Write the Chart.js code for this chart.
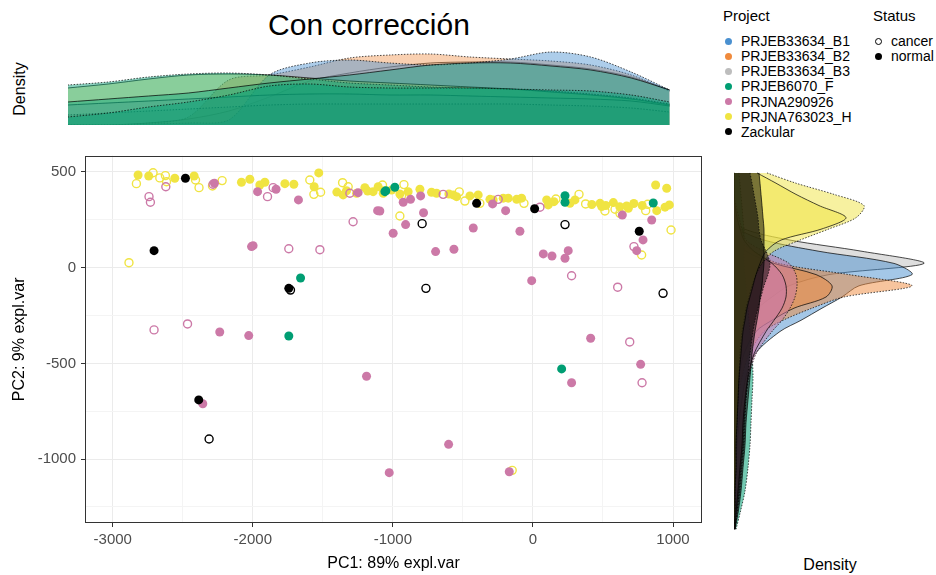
<!DOCTYPE html>
<html>
<head>
<meta charset="utf-8">
<script src="https://cdn.jsdelivr.net/npm/chart.js@4.4.1/dist/chart.umd.min.js"></script>
<style>
  body { margin: 0; width: 936px; height: 575px; background: #fff; position: relative; overflow: hidden;
         font-family: "Liberation Sans", Arial, sans-serif; color: #000; }
  canvas { position: absolute; }
  .txt { position: absolute; line-height: 1; white-space: nowrap; }
  #title { left: 169px; width: 400px; top: 10px; font-size: 30px; text-align: center; }
  .rot { transform: translate(-50%, -50%) rotate(-90deg); font-size: 16px; }
  .ctr { transform: translate(-50%, -50%); font-size: 16px; }
  .lg-title { font-size: 15px; }
  .lg-item { font-size: 14px; }
  .dot { position: absolute; width: 7px; height: 7px; border-radius: 50%; box-sizing: border-box; }
</style>
</head>
<body>
<div class="txt" id="title">Con corrección</div>
<div class="txt rot" style="left:20px;top:89px">Density</div>
<div class="txt ctr" style="left:830px;top:565px">Density</div>
<canvas id="topDens" width="602" height="87" style="left:68px;top:38px"></canvas>
<canvas id="scatter" width="716" height="435" style="left:0;top:140px"></canvas>
<canvas id="rightDens" width="198" height="358" style="left:734px;top:172px"></canvas>
<div id="legend"></div>
<script>
// categories
const projects = ['PRJEB33634_B1', 'PRJEB33634_B2', 'PRJEB33634_B3', 'PRJEB6070_F', 'PRJNA290926', 'PRJNA763023_H', 'Zackular'];
const statuses = ['cancer', 'normal'];
const projectColors = ['#4A90D0', '#F08A3C', '#BDBDBD', '#009E73', '#CC79A7', '#F0E442', '#000000'];

// axis ticks (labelled ones) and grid positions
const xTicks = [-3000, -2000, -1000, 0, 1000];
const yTicks = [500, 0, -500, -1000];
const xGrid = [-3000, -2500, -2000, -1500, -1000, -500, 0, 500, 1000];
const yGrid = [500, 250, 0, -250, -500, -750, -1000, -1250];
const xRange = [-3198, 1207];
const yRange = [-1334, 585];

// PCA scores [PC1, PC2]
const hNormal = [[-2819,484],[-2743,479],[-2557,467],[-2419,479],[-2081,446],[-2021,462],[-1950,432],[-1914,446],[-1771,439],[-1707,436],[-1562,423],[-1529,495],[-1400,395],[-1355,380],[-1331,402],[-1259,389],[-1200,418],[-1180,400],[-1141,397],[-1105,423],[-1069,389],[-1064,402],[-1009,406],[-950,385],[-891,397],[-807,410],[-724,394],[-688,389],[-600,385],[-569,380],[-545,371],[-450,375],[-391,380],[-307,357],[-284,354],[-212,363],[-176,363],[-116,357],[-81,363],[98,354],[109,328],[150,345],[264,336],[300,354],[420,330],[479,336],[491,319],[520,325],[574,340],[620,318],[669,322],[681,310],[720,335],[780,325],[876,432],[955,415],[884,298],[943,316],[974,328]];
const hCancer = [[-2831,439],[-2712,496],[-2664,469],[-2624,481],[-2616,449],[-2409,458],[-2384,418],[-2288,427],[-2219,455],[-1593,458],[-1564,383],[-1516,394],[-1359,444],[-1319,423],[-2884,26],[-1074,432],[-921,434],[-938,376],[-950,270],[-526,396],[-486,348],[-379,336],[-64,336],[164,359],[329,383],[376,333],[514,296],[586,305],[621,284],[805,298],[819,331],[776,66],[986,197],[-148,-1059]];
const p290Normal = [[-2274,441],[-1966,397],[-1834,410],[-1674,354],[-1109,298],[-1998,115],[-2009,110],[-2236,-336],[-2029,-355],[-1248,392],[-1188,-567],[-2357,-711],[-1026,-1071],[412,-369],[276,-601],[769,-505],[-602,-923],[-169,-1066],[-1093,296],[-926,342],[-874,357],[-802,375],[-781,287],[-998,180],[-909,225],[-426,207],[-288,333],[-195,298],[-93,190],[-695,84],[-564,96],[74,72],[136,61],[229,49],[252,89],[-9,-68],[638,275],[786,145],[741,89],[848,249]];
const p290Cancer = [[-2741,371],[-2731,342],[-2621,423],[-2284,436],[-1895,371],[-1855,418],[-1284,240],[-1743,99],[-1521,94],[-2705,-325],[-2466,-294],[-1307,389],[691,-388],[779,-601],[-641,383],[-248,357],[50,316],[276,-42],[605,-102],[721,110]];
const fNormal = [[-1659,-54],[-1743,-357],[-1050,402],[-1057,397],[-986,420],[229,376],[229,342],[859,338],[205,-529]];
const zackNormal = [[-2481,467],[-2705,89],[-1743,-108],[-2386,-691],[-402,336],[12,308],[759,190]];
const zackCancer = [[-1731,-117],[-2312,-895],[-791,230],[229,225],[-764,-108],[929,-134]];

// marginal density of PC1 (top)
const topGridPC1 = [-3200, -2905, -2610, -2320, -2025, -1730, -1435, -1145, -850, -555, -265, 30, 325, 615, 910, 1190];
const topB3 = [0, 0, 2, 6, 14, 28, 44, 52, 58, 62, 63, 63, 60, 56, 48, 35];
const topB2 = [0, 0, 2, 8, 45, 50, 58, 67, 70, 71, 68, 66, 64, 60, 50, 34];
const topB1 = [0, 0, 1, 2, 5, 50, 62, 65, 62, 60, 62, 66, 73, 68, 53, 35];
const topH = [37, 41, 46, 50, 51, 50, 47, 44, 42, 40, 38, 36, 33, 30, 26, 20];
const topP290 = [20, 22, 24, 26, 28, 30, 31, 31, 30, 30, 29, 28, 27, 26, 24, 19];
const topZack = [10, 12, 14, 16, 18, 20, 21, 21, 21, 21, 21, 21, 20, 19, 17, 13];
const topFCancer = [40, 43, 48, 51, 52, 50, 46, 42, 40, 38, 37, 36, 34, 31, 27, 21];
const topFNormal = [23, 26, 29, 32, 37, 42, 46, 50, 55, 60, 62, 62, 59, 55, 47, 35];
const topFAll = [8, 12, 18, 23, 30, 39, 41, 38, 37, 37, 37, 36, 35, 34, 30, 23];

// marginal density of PC2 (right)
const rightGridPC2 = [580, 525, 465, 405, 340, 280, 220, 160, 95, 35, -25, -85, -145, -210, -270, -390, -515, -635, -760, -880, -1000, -1125, -1245, -1330];
const rightB3 = [0, 0, 0, 0, 0, 10, 56, 128, 190, 95, 55, 38, 24, 15, 10, 5, 3, 2, 1, 1, 0, 0, 0, 0];
const rightB1 = [0, 0, 0, 0, 0, 5, 30, 85, 160, 178, 125, 108, 88, 67, 46, 21, 12, 8, 5, 3, 2, 1, 0, 0];
const rightB2Cancer = [0, 0, 0, 0, 0, 0, 5, 20, 45, 115, 178, 110, 78, 49, 30, 15, 8, 4, 2, 1, 0, 0, 0, 0];
const rightB2Normal = [0, 0, 0, 0, 0, 0, 3, 12, 40, 82, 98, 92, 60, 38, 22, 10, 5, 2, 1, 0, 0, 0, 0, 0];
const rightF = [5, 6, 7, 8, 9, 10, 10, 10, 10, 11, 12, 13, 14, 15, 16, 18, 19, 18, 17, 16, 14, 11, 6, 2];
const rightP290Cancer = [0, 0, 0, 2, 5, 8, 12, 30, 55, 62, 63, 61, 56, 48, 38, 22, 15, 12, 10, 9, 7, 5, 3, 1];
const rightP290Normal = [0, 0, 0, 1, 3, 6, 10, 20, 38, 48, 52, 52, 48, 40, 32, 20, 14, 11, 9, 8, 6, 4, 2, 1];
const rightHCancer = [33, 62, 100, 130, 122, 95, 66, 40, 28, 22, 18, 15, 12, 10, 8, 6, 5, 4, 3, 2, 2, 1, 1, 0];
const rightHNormal = [23, 42, 62, 85, 112, 88, 47, 32, 26, 22, 19, 16, 13, 11, 9, 7, 5, 4, 3, 2, 2, 1, 1, 0];
const rightZackNormal = [25, 26, 27, 28, 29, 30, 30, 30, 30, 29, 28, 26, 25, 23, 21, 18, 16, 14, 12, 11, 9, 7, 4, 1];
const rightZackCancer = [16, 18, 20, 22, 24, 25, 27, 32, 36, 34, 30, 27, 24, 21, 19, 16, 14, 12, 11, 10, 8, 6, 3, 1];

const FONT = '"Liberation Sans", Arial, sans-serif';
Chart.defaults.font.family = FONT;

function rgba(hex, a) {
    const n = parseInt(hex.slice(1), 16);
    return `rgba(${(n >> 16) & 255},${(n >> 8) & 255},${n & 255},${a})`;
}

// panel box like theme_bw
const boxPlugin = {
    id: 'box',
    afterDraw(chart) {
        const a = chart.chartArea, ctx = chart.ctx;
        ctx.save();
        ctx.strokeStyle = '#333333';
        ctx.lineWidth = 1;
        ctx.strokeRect(Math.round(a.left) + 0.5, Math.round(a.top) + 0.5, Math.round(a.width) - 1, Math.round(a.height) - 1);
        ctx.restore();
    }
};

function densSet(grid, vals, colorIdx, dotted, alpha, vertical) {
    return {
        data: grid.map((g, i) => vertical ? { x: vals[i], y: g } : { x: g, y: vals[i] }),
        fill: 'origin',
        backgroundColor: rgba(projectColors[colorIdx], alpha),
        borderColor: 'rgba(0,0,0,0.7)',
        borderWidth: 1,
        borderDash: dotted ? [1.5, 1.5] : [],
        pointRadius: 0,
        tension: 0.3
    };
}

function scatterSet(pts, colorIdx, open) {
    const c = projectColors[colorIdx];
    return {
        data: pts.map(p => ({ x: p[0], y: p[1] })),
        pointRadius: open ? 4 : 4.5,
        pointBorderWidth: open ? 1.4 : 0,
        pointBackgroundColor: open ? 'rgba(0,0,0,0)' : c,
        pointBorderColor: c
    };
}

function initializeTopDensity() {
    // listed top-most first (Chart.js draws index 0 last)
    const sets = [
        densSet(topGridPC1, topFAll, 3, true, 0.45),
        densSet(topGridPC1, topFNormal, 3, false, 0.38),
        densSet(topGridPC1, topFCancer, 3, true, 0.45),
        densSet(topGridPC1, topZack, 6, true, 0.08),
        densSet(topGridPC1, topP290, 4, false, 0.25),
        densSet(topGridPC1, topH, 5, false, 0.35),
        densSet(topGridPC1, topB1, 0, true, 0.45),
        densSet(topGridPC1, topB2, 1, true, 0.4),
        densSet(topGridPC1, topB3, 2, false, 0.35)
    ];
    new Chart(document.getElementById('topDens'), {
        type: 'line',
        data: { datasets: sets },
        options: {
            responsive: false, animation: false,
            layout: { padding: 0 },
            plugins: { legend: { display: false }, tooltip: { enabled: false } },
            scales: {
                x: { type: 'linear', display: false, min: xRange[0], max: xRange[1] - 14 },
                y: { type: 'linear', display: false, min: 0, max: 87 }
            }
        }
    });
}

function initializeRightDensity() {
    const sets = [
        densSet(rightGridPC2, rightZackNormal, 6, false, 0.5, true),
        densSet(rightGridPC2, rightZackCancer, 6, true, 0.5, true),
        densSet(rightGridPC2, rightHNormal, 5, false, 0.5, true),
        densSet(rightGridPC2, rightHCancer, 5, true, 0.5, true),
        densSet(rightGridPC2, rightP290Normal, 4, false, 0.5, true),
        densSet(rightGridPC2, rightP290Cancer, 4, true, 0.5, true),
        densSet(rightGridPC2, rightF, 3, true, 0.55, true),
        densSet(rightGridPC2, rightB2Normal, 1, false, 0.5, true),
        densSet(rightGridPC2, rightB2Cancer, 1, true, 0.5, true),
        densSet(rightGridPC2, rightB1, 0, false, 0.5, true),
        densSet(rightGridPC2, rightB3, 2, false, 0.5, true)
    ];
    new Chart(document.getElementById('rightDens'), {
        type: 'line',
        data: { datasets: sets },
        options: {
            indexAxis: 'y',
            responsive: false, animation: false,
            layout: { padding: 0 },
            plugins: { legend: { display: false }, tooltip: { enabled: false } },
            scales: {
                x: { type: 'linear', display: false, min: 0, max: 198 },
                y: { type: 'linear', display: false, min: yRange[0], max: yRange[1] }
            }
        }
    });
}

function initializeScatter() {
    const sets = [
        scatterSet(zackNormal, 6, false),
        scatterSet(zackCancer, 6, true),
        scatterSet(fNormal, 3, false),
        scatterSet(p290Normal, 4, false),
        scatterSet(p290Cancer, 4, true),
        scatterSet(hNormal, 5, false),
        scatterSet(hCancer, 5, true)
    ];
    const tickFont = { size: 15, family: FONT };
    const gridColor = (ticks) => ctx => ticks.includes(ctx.tick.value) ? '#EBEBEB' : '#F4F4F4';
    const tickColor = (ticks) => ctx => ticks.includes(ctx.tick.value) ? '#333333' : 'rgba(0,0,0,0)';

    new Chart(document.getElementById('scatter'), {
        type: 'scatter',
        data: { datasets: sets },
        options: {
            responsive: false, animation: false,
            layout: { padding: { top: 15.7, right: 14, left: 0, bottom: 0 } },
            plugins: { legend: { display: false }, tooltip: { enabled: false } },
            scales: {
                x: {
                    type: 'linear', min: xRange[0], max: xRange[1],
                    afterBuildTicks: s => { s.ticks = xGrid.map(v => ({ value: v })); },
                    afterFit: s => { s.height = 52; },
                    border: { display: false },
                    grid: { color: gridColor(xTicks), tickColor: tickColor(xTicks), tickLength: 4, lineWidth: 1 },
                    ticks: {
                        autoSkip: false, maxRotation: 0,
                        color: '#4D4D4D', font: tickFont, padding: 4,
                        callback: v => xTicks.includes(v) ? String(v) : ''
                    },
                    title: { display: true, text: 'PC1: 89% expl.var', color: '#000', font: { size: 16, family: FONT }, padding: { top: 0, bottom: 2 } }
                },
                y: {
                    type: 'linear', min: yRange[0], max: yRange[1],
                    afterBuildTicks: s => { s.ticks = yGrid.map(v => ({ value: v })); },
                    afterFit: s => { s.width = 85; },
                    border: { display: false },
                    grid: { color: gridColor(yTicks), tickColor: tickColor(yTicks), tickLength: 4, lineWidth: 1 },
                    ticks: {
                        autoSkip: false,
                        color: '#4D4D4D', font: tickFont, padding: 5,
                        callback: v => yTicks.includes(v) ? String(v) : ''
                    },
                    title: { display: true, text: 'PC2: 9% expl.var', color: '#000', font: { size: 16, family: FONT }, padding: { top: 10, bottom: 0 } }
                }
            }
        },
        plugins: [boxPlugin]
    });
}

function buildLegend() {
    const box = document.getElementById('legend');
    const add = (html) => box.insertAdjacentHTML('beforeend', html);
    add(`<div class="txt lg-title" style="left:723px;top:8px">Project</div>`);
    add(`<div class="txt lg-title" style="left:873px;top:8px">Status</div>`);
    projects.forEach((p, i) => {
        const base = 46 + i * 15.1;
        add(`<div class="dot" style="left:724.5px;top:${base - 8.5}px;background:${projectColors[i]}"></div>`);
        add(`<div class="txt lg-item" style="left:741px;top:${base - 11.9}px">${p}</div>`);
    });
    statuses.forEach((s, i) => {
        const base = 46 + i * 15.1;
        const style = s === 'cancer' ? 'border:1.3px solid #000;background:#fff' : 'background:#000';
        add(`<div class="dot" style="left:875px;top:${base - 8.5}px;${style}"></div>`);
        add(`<div class="txt lg-item" style="left:891px;top:${base - 11.9}px">${s}</div>`);
    });
}

buildLegend();
initializeTopDensity();
initializeScatter();
initializeRightDensity();
</script>
</body>
</html>
